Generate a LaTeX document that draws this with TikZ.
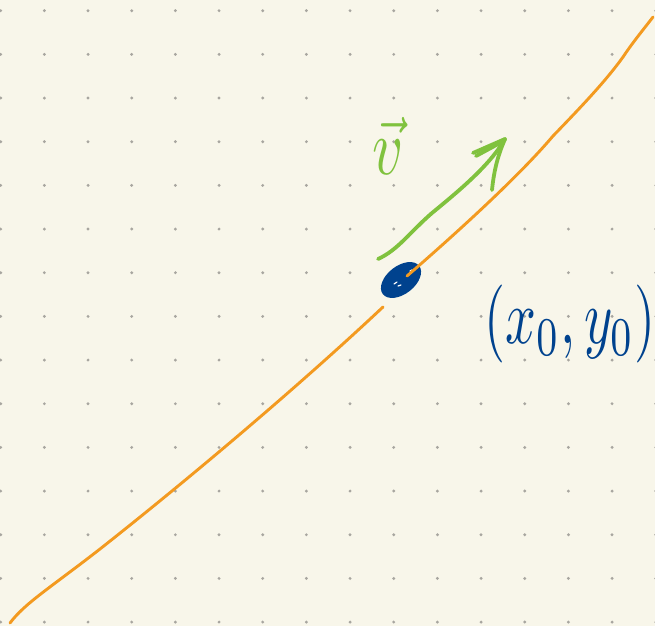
\documentclass[tikz,border=0pt]{standalone}
\usepackage{amsmath}
\usepackage{graphicx}
\definecolor{paper}{RGB}{248,246,234}
\definecolor{dotgrey}{RGB}{168,166,160}
\definecolor{curveorange}{RGB}{243,154,32}
\definecolor{vecgreen}{RGB}{128,194,62}
\definecolor{pointblue}{RGB}{0,66,142}
\tikzset{
  gridtick/.style={fill=dotgrey},
  curvestroke/.style={curveorange, line width=2.9pt, line cap=round, line join=round},
  vecstroke/.style={vecgreen, line width=3.8pt, line cap=round, line join=round},
  highlight/.style={white, line width=1.2pt, line cap=round},
}
\begin{document}
\begin{tikzpicture}[x=1pt,y=-1pt]
\fill[paper] (0,0) rectangle (655,626);
\useasboundingbox (0,0) rectangle (655,626);
% dot grid
\foreach \i in {0,...,15}{
  \foreach \j in {0,...,14}{
    \fill[gridtick] ({0.7+43.67*\i},{10.7+43.67*\j}) circle (1.6pt);
  }
}
% orange curve, lower part
\draw[curvestroke] (10,623) .. controls (25,603) and (50,588) .. (100,549)
  .. controls (190,478) and (300,385) .. (383,307);
% point (x0,y0)
\fill[pointblue, rotate around={38:(401,280)}] (401,280) ellipse [x radius=23pt, y radius=14pt];
\coordinate (P) at (401,280);
\draw[highlight] (394,284) -- (397,282);
\draw[highlight] (398,286) -- (401,285);
\draw[highlight] (410,271) -- (412,270);
% orange curve, upper part
\draw[curvestroke] (407,276) .. controls (460,230) and (520,175) .. (553,136)
  .. controls (580,108) and (605,82) .. (623,57) .. controls (633,42) and (643,30) .. (653,17);
% green vector v
\coordinate (v0) at (378,259);
\coordinate (v1) at (505,139);
\draw[vecstroke] (v0) .. controls (398,250) and (410,232) .. (432,213)
  .. controls (460,190) and (490,165) .. (v1);
\draw[vecstroke] (473,153) -- (v1);
\draw[vecstroke] (476,156) -- (500,143);
\draw[vecstroke] (v1) .. controls (498,155) and (494,170) .. (492,190);
% labels
\node[vecgreen, inner sep=0pt] (vlabel) at (388,146) {\scalebox{6}[8]{$\vec{v}$}};
\node[pointblue, inner sep=0pt, anchor=west] (ptlabel) at (484,324) {\scalebox{5.4}[7.8]{$(x_0,y_0)$}};
\end{tikzpicture}
\end{document}
